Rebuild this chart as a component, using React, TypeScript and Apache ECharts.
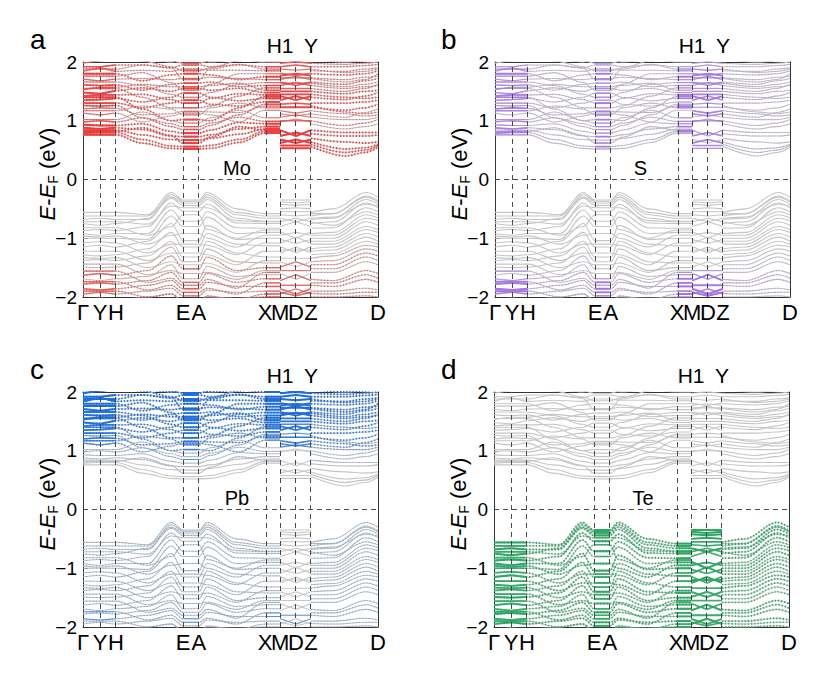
import React, { useEffect, useRef } from 'react';
import * as echarts from 'echarts';

const FONT = 'Liberation Sans, Arial, Helvetica, sans-serif';

// high-symmetry path
const kLabels = ['Γ', 'Y', 'H', 'E', 'A', 'X', 'M', 'D', 'Z', 'D'];
const kTicks = [0, 0.058, 0.112, 0.339, 0.393, 0.617, 0.668, 0.722, 0.773, 1];
const topLabels = ['H1', 'Y'];
const topTicks = [0.668, 0.773];

// k nodes of the three path pieces (Γ..M, M..Z, Z..D)
const condK1 = [0, 0.058, 0.112, 0.2, 0.3, 0.339, 0.393, 0.43, 0.53, 0.617, 0.668];
const valK1 = [0, 0.058, 0.112, 0.22, 0.3, 0.339, 0.393, 0.42, 0.52, 0.617, 0.668];
const k2 = [0.668, 0.722, 0.773];
const condK3 = [0.773, 0.89, 0.955, 1];
const valK3 = [0.773, 0.85, 0.96, 1];

// conduction bands (eV): Γ Y H · · E A · · X M
const condSeg1 = [
  [0.76, 0.76, 0.76, 0.62, 0.53, 0.52, 0.52, 0.53, 0.63, 0.79, 0.79],
  [0.79, 0.8, 0.8, 0.68, 0.57, 0.56, 0.56, 0.58, 0.68, 0.82, 0.82],
  [0.84, 0.84, 0.84, 0.76, 0.68, 0.67, 0.67, 0.7, 0.77, 0.86, 0.86],
  [0.88, 0.86, 0.88, 0.85, 0.74, 0.73, 0.73, 0.76, 0.86, 0.9, 0.9],
  [0.93, 0.92, 0.92, 0.95, 0.82, 0.79, 0.79, 0.84, 0.97, 0.95, 0.95],
  [0.98, 1.0, 0.98, 1.05, 0.95, 0.9, 0.9, 0.96, 1.06, 0.99, 0.99],
  [1.13, 1.1, 1.13, 0.98, 1.08, 1.13, 1.13, 1.1, 0.98, 1.18, 1.18],
  [1.2, 1.22, 1.21, 1.1, 1.12, 1.16, 1.16, 1.15, 1.14, 1.25, 1.25],
  [1.3, 1.3, 1.3, 1.22, 1.3, 1.35, 1.35, 1.28, 1.25, 1.32, 1.32],
  [1.35, 1.36, 1.38, 1.32, 1.4, 1.47, 1.47, 1.4, 1.34, 1.38, 1.38],
  [1.42, 1.44, 1.44, 1.45, 1.36, 1.3, 1.3, 1.38, 1.46, 1.44, 1.44],
  [1.48, 1.46, 1.51, 1.56, 1.5, 1.55, 1.55, 1.52, 1.55, 1.48, 1.48],
  [1.53, 1.57, 1.57, 1.62, 1.58, 1.58, 1.58, 1.6, 1.64, 1.52, 1.52],
  [1.61, 1.6, 1.61, 1.52, 1.62, 1.64, 1.64, 1.66, 1.58, 1.6, 1.6],
  [1.71, 1.68, 1.71, 1.72, 1.7, 1.72, 1.72, 1.74, 1.72, 1.7, 1.7],
  [1.8, 1.8, 1.8, 1.68, 1.78, 1.8, 1.8, 1.78, 1.7, 1.75, 1.75],
  [1.84, 1.9, 1.84, 1.86, 1.84, 1.88, 1.88, 1.86, 1.86, 1.85, 1.85],
  [1.92, 1.92, 1.95, 1.95, 1.9, 1.95, 1.95, 1.92, 1.95, 1.92, 1.92],
  [1.98, 2.02, 2.05, 2.05, 2.0, 2.05, 2.05, 2.0, 2.04, 2.0, 2.0],
  [1.02, 1.02, 1.02, 1.15, 1.0, 0.96, 0.96, 1.05, 1.18, 1.05, 1.05],
  [1.17, 1.17, 1.17, 1.25, 1.2, 1.1, 1.1, 1.22, 1.3, 1.22, 1.22],
  [1.26, 1.25, 1.26, 1.05, 0.9, 0.85, 0.85, 0.92, 1.1, 1.28, 1.28],
  [1.4, 1.4, 1.4, 1.2, 1.0, 1.02, 1.02, 1.0, 1.22, 1.41, 1.41],
  [1.55, 1.55, 1.55, 1.4, 1.22, 1.22, 1.22, 1.25, 1.42, 1.56, 1.56],
  [1.66, 1.66, 1.66, 1.6, 1.45, 1.4, 1.4, 1.48, 1.62, 1.65, 1.65],
  [1.76, 1.76, 1.76, 1.82, 1.65, 1.52, 1.52, 1.62, 1.8, 1.8, 1.8],
  [1.88, 1.88, 1.88, 1.95, 1.9, 1.7, 1.7, 1.88, 1.96, 1.88, 1.88],
  [2.1, 2.1, 2.1, 2.02, 1.92, 1.85, 1.85, 1.9, 2.02, 2.1, 2.1],
  [2.2, 2.2, 2.2, 2.15, 2.02, 1.98, 1.98, 2.02, 2.15, 2.2, 2.2],
  [0.81, 0.82, 0.82, 0.88, 0.75, 0.62, 0.62, 0.72, 0.9, 0.84, 0.84],
];
// M D Z
const condSeg2 = [
  [0.53, 0.53, 0.53], [0.62, 0.68, 0.62], [0.68, 0.62, 0.68], [0.74, 0.8, 0.74],
  [0.84, 0.74, 0.84], [1.0, 1.0, 1.0], [1.06, 1.1, 1.06], [1.17, 1.13, 1.17],
  [1.23, 1.23, 1.23], [1.35, 1.42, 1.35], [1.42, 1.35, 1.42], [1.5, 1.5, 1.5],
  [1.6, 1.65, 1.6], [1.66, 1.6, 1.66], [1.73, 1.73, 1.73], [1.77, 1.8, 1.77],
  [1.81, 1.77, 1.81], [1.92, 1.95, 1.92], [2.05, 2.0, 2.05],
  [0.98, 1.03, 0.98], [1.12, 1.08, 1.12], [1.28, 1.3, 1.28], [1.45, 1.45, 1.45],
  [1.55, 1.55, 1.55], [1.64, 1.64, 1.64], [1.7, 1.76, 1.7], [1.88, 1.86, 1.88],
  [1.98, 2.0, 1.98], [2.1, 2.1, 2.1], [0.58, 0.58, 0.58],
];
// Z · · D
const condSeg3 = [
  [0.56, 0.4, 0.46, 0.55], [0.64, 0.52, 0.54, 0.6], [0.7, 0.64, 0.62, 0.64],
  [0.78, 0.74, 0.74, 0.76], [0.84, 0.8, 0.8, 0.8], [1.0, 0.92, 0.96, 1.02],
  [1.06, 1.02, 1.02, 1.06], [1.17, 1.12, 1.08, 1.1], [1.23, 1.18, 1.22, 1.28],
  [1.3, 1.3, 1.32, 1.35], [1.4, 1.36, 1.42, 1.48], [1.5, 1.46, 1.5, 1.52],
  [1.6, 1.55, 1.58, 1.6], [1.66, 1.62, 1.68, 1.72], [1.73, 1.7, 1.74, 1.76],
  [1.8, 1.78, 1.8, 1.85], [1.85, 1.84, 1.88, 1.9], [1.92, 1.92, 1.94, 1.96],
  [2.05, 2.0, 2.02, 2.05],
  [0.95, 0.86, 0.9, 0.95], [1.12, 1.06, 1.14, 1.2], [1.26, 1.15, 1.12, 1.15],
  [1.45, 1.4, 1.38, 1.4], [1.55, 1.5, 1.55, 1.62], [1.64, 1.58, 1.62, 1.66],
  [1.72, 1.66, 1.7, 1.8], [1.88, 1.82, 1.84, 1.88], [1.98, 1.96, 1.98, 2.0],
  [2.1, 2.05, 2.05, 2.1], [0.6, 0.46, 0.5, 0.58],
];

// valence bands (eV): Γ Y H · · E A · · X M
const valSeg1 = [
  [-0.56, -0.56, -0.56, -0.6, -0.22, -0.35, -0.35, -0.22, -0.5, -0.58, -0.58],
  [-0.68, -0.66, -0.68, -0.68, -0.26, -0.37, -0.37, -0.26, -0.56, -0.62, -0.62],
  [-0.75, -0.78, -0.75, -0.66, -0.32, -0.44, -0.44, -0.34, -0.66, -0.71, -0.71],
  [-0.87, -0.85, -0.87, -0.8, -0.4, -0.54, -0.54, -0.42, -0.74, -0.75, -0.75],
  [-0.92, -0.95, -0.92, -0.92, -0.52, -0.71, -0.71, -0.55, -0.82, -0.83, -0.83],
  [-1.0, -1.0, -1.0, -1.02, -0.62, -0.8, -0.8, -0.64, -0.92, -0.9, -0.9],
  [-1.15, -1.12, -1.15, -1.05, -0.75, -1.04, -1.04, -0.78, -1.02, -1.0, -1.0],
  [-1.28, -1.3, -1.28, -1.18, -0.9, -1.15, -1.15, -0.92, -1.1, -1.13, -1.13],
  [-1.38, -1.36, -1.38, -1.3, -1.05, -1.32, -1.32, -1.05, -1.25, -1.32, -1.32],
  [-1.49, -1.5, -1.49, -1.42, -1.15, -1.4, -1.4, -1.18, -1.4, -1.42, -1.42],
  [-1.63, -1.6, -1.63, -1.55, -1.3, -1.52, -1.52, -1.32, -1.55, -1.5, -1.5],
  [-1.69, -1.72, -1.69, -1.65, -1.45, -1.69, -1.69, -1.48, -1.65, -1.62, -1.62],
  [-1.78, -1.76, -1.78, -1.72, -1.58, -1.75, -1.75, -1.6, -1.75, -1.69, -1.69],
  [-1.86, -1.88, -1.86, -1.8, -1.72, -1.86, -1.86, -1.75, -1.82, -1.82, -1.82],
  [-1.95, -1.92, -1.95, -1.9, -1.85, -1.98, -1.98, -1.88, -1.92, -1.9, -1.9],
  [-2.05, -2.02, -2.05, -2.0, -1.95, -2.05, -2.05, -2.0, -2.02, -2.0, -2.0],
  [-0.62, -0.62, -0.62, -0.62, -0.3, -0.4, -0.4, -0.3, -0.6, -0.66, -0.66],
  [-0.72, -0.72, -0.72, -0.76, -0.45, -0.48, -0.48, -0.48, -0.7, -0.72, -0.72],
  [-0.82, -0.82, -0.82, -0.95, -0.8, -0.6, -0.6, -0.85, -1.0, -0.86, -0.86],
  [-0.96, -0.98, -0.96, -1.1, -0.95, -0.92, -0.92, -1.0, -1.15, -0.95, -0.95],
  [-1.08, -1.06, -1.08, -1.25, -1.1, -1.1, -1.1, -1.12, -1.28, -1.08, -1.08],
  [-1.22, -1.22, -1.22, -1.38, -1.25, -1.25, -1.25, -1.28, -1.45, -1.22, -1.22],
  [-1.33, -1.34, -1.33, -1.5, -1.4, -1.45, -1.45, -1.42, -1.58, -1.38, -1.38],
  [-1.44, -1.44, -1.44, -1.62, -1.55, -1.6, -1.6, -1.58, -1.7, -1.55, -1.55],
  [-1.56, -1.56, -1.56, -1.75, -1.68, -1.8, -1.8, -1.7, -1.85, -1.58, -1.58],
  [-1.74, -1.74, -1.74, -1.88, -1.8, -1.92, -1.92, -1.85, -1.95, -1.76, -1.76],
  [-1.9, -1.9, -1.9, -2.0, -1.95, -2.1, -2.1, -1.98, -2.05, -1.95, -1.95],
];
// M D Z
const valSeg2 = [
  [-0.35, -0.35, -0.35], [-0.38, -0.4, -0.38], [-0.42, -0.44, -0.42], [-0.5, -0.48, -0.5],
  [-0.66, -0.72, -0.66], [-0.8, -0.72, -0.8], [-0.89, -1.0, -0.89], [-1.09, -0.98, -1.09],
  [-1.14, -1.25, -1.14], [-1.25, -1.15, -1.25], [-1.49, -1.4, -1.49], [-1.6, -1.7, -1.6],
  [-1.72, -1.62, -1.72], [-1.86, -1.95, -1.86], [-1.95, -1.86, -1.95], [-2.05, -2.05, -2.05],
  [-0.55, -0.55, -0.55], [-0.6, -0.62, -0.6], [-0.72, -0.66, -0.72], [-0.95, -0.9, -0.95],
  [-1.02, -1.09, -1.02], [-1.2, -1.2, -1.2], [-1.34, -1.34, -1.34], [-1.4, -1.49, -1.4],
  [-1.55, -1.55, -1.55], [-1.8, -1.8, -1.8], [-1.92, -1.98, -1.92],
];
// Z · · D
const valSeg3 = [
  [-0.56, -0.5, -0.22, -0.3], [-0.62, -0.58, -0.28, -0.36], [-0.68, -0.66, -0.34, -0.42],
  [-0.75, -0.72, -0.4, -0.48], [-0.83, -0.82, -0.48, -0.55], [-0.92, -0.9, -0.6, -0.65],
  [-1.0, -1.0, -0.72, -0.78], [-1.1, -1.1, -0.85, -0.9], [-1.22, -1.2, -0.98, -1.05],
  [-1.34, -1.3, -1.12, -1.15], [-1.45, -1.45, -1.25, -1.3], [-1.58, -1.58, -1.4, -1.45],
  [-1.7, -1.72, -1.55, -1.6], [-1.8, -1.82, -1.7, -1.75], [-1.9, -1.9, -1.85, -1.88],
  [-2.0, -2.0, -1.98, -2.0],
  [-0.58, -0.58, -0.3, -0.38], [-0.66, -0.64, -0.42, -0.45], [-0.72, -0.78, -0.55, -0.6],
  [-0.95, -0.95, -0.66, -0.7], [-1.05, -1.05, -0.8, -0.85], [-1.18, -1.15, -0.92, -0.98],
  [-1.28, -1.26, -1.05, -1.1], [-1.4, -1.38, -1.18, -1.22], [-1.52, -1.52, -1.32, -1.38],
  [-1.76, -1.76, -1.62, -1.68], [-1.94, -1.95, -1.92, -1.92],
];

// projection weights (0..1) per band
const moCond = [1, 1, 1, 1, 1, 0.6, 0.3, 0.4, 0.9, 0.9, 0.9, 0.9, 0.6, 0.8, 0.5, 0.9, 0.5, 0.7, 0.4,
  0.3, 0.3, 0.7, 0.9, 0.6, 0.4, 0.4, 0.4, 0.6, 0.6, 1];
const moVal = [0, 0, 0, 0, 0, 0, 0, 0, 0, 0.15, 0.5, 0.2, 0.5, 0.6, 0.4, 0.6,
  0, 0, 0, 0, 0, 0, 0, 0.2, 0.4, 0.5, 0.6];
const sCond = [0.15, 0.3, 0.1, 0.3, 0.15, 0.2, 0.1, 0.3, 0.15, 0.25, 0.35, 0.2, 0.15, 0.2, 0.15, 0.35, 0.15, 0.15, 0.1,
  0.15, 0.25, 0.15, 0.3, 0.15, 0.2, 0.15, 0.2, 0.15, 0.15, 0.25];
const sVal = [0, 0, 0, 0, 0, 0, 0, 0, 0, 0, 0.1, 0.15, 0.35, 0.4, 0.25, 0.25,
  0, 0, 0, 0, 0, 0, 0, 0, 0.15, 0.35, 0.4];
const pbCond = [0, 0, 0, 0.05, 0.05, 0.1, 0.5, 0.7, 0.8, 0.9, 0.8, 0.9, 1, 0.9, 1, 0.9, 1, 1, 1,
  0.1, 0.6, 0.3, 0.6, 0.9, 0.9, 1, 1, 1, 1, 0.05];
const pbVal = [0.15, 0.1, 0.2, 0.1, 0.2, 0.15, 0.2, 0.1, 0.2, 0.15, 0.2, 0.15, 0.2, 0.3, 0.2, 0.2,
  0.2, 0.1, 0.2, 0.15, 0.2, 0.1, 0.2, 0.15, 0.2, 0.3, 0.2];
const teCond = [0, 0, 0, 0, 0, 0, 0, 0, 0, 0, 0, 0, 0, 0, 0, 0, 0, 0, 0,
  0, 0, 0, 0, 0, 0, 0, 0, 0, 0, 0];
const teVal = [1, 1, 1, 1, 1, 0.8, 1, 0.9, 0.8, 1, 0.9, 0.8, 1, 0.9, 1, 0.9,
  0.9, 0.8, 0.8, 0.9, 0.8, 0.9, 0.8, 0.9, 0.8, 0.9, 0.8];

const panelLetters = ['a', 'b', 'c', 'd'];
const elementNames = ['Mo', 'S', 'Pb', 'Te'];
const elementColors = ['#ea4040', '#a574e6', '#1e6fdc', '#2fa865'];

const PANELS = [
  { cw: moCond, vw: moVal, boost: 1.0, gx: 83, gy: 62, labelFx: 0.522, letterX: 30 },
  { cw: sCond, vw: sVal, boost: 2.6, gx: 495, gy: 62, labelFx: 0.493, letterX: 441 },
  { cw: pbCond, vw: pbVal, boost: 1.0, gx: 83, gy: 392, labelFx: 0.522, letterX: 30 },
  { cw: teCond, vw: teVal, boost: 1.0, gx: 494, gy: 392, labelFx: 0.505, letterX: 441 },
];
const GW = 295;
const GH = 235;
const GRAY = '#c6c6c6';
const FLAT_RANGES = [[0, 2], [5, 6], [9, 10]];
const TITLE_SIZE = 22;
const SUB_SIZE = 14;

function pts(ks: number[], vals: number[]) {
  return ks.map((k, i) => [k, vals[i]]);
}

function measure(text: string, size: number, italic: boolean) {
  const c = document.createElement('canvas');
  const ctx = c.getContext('2d');
  if (!ctx) return text.length * size * 0.6;
  ctx.font = (italic ? 'italic ' : '') + size + 'px ' + FONT;
  return ctx.measureText(text).width;
}

function yTitle(cx: number, cy: number) {
  const pieces = [
    { t: 'E', s: TITLE_SIZE, it: true, dy: 0 },
    { t: '-', s: TITLE_SIZE, it: false, dy: 0 },
    { t: 'E', s: TITLE_SIZE, it: true, dy: 0 },
    { t: 'F', s: SUB_SIZE, it: false, dy: 6 },
    { t: ' (eV)', s: TITLE_SIZE, it: false, dy: 0 },
  ];
  const widths = pieces.map((p) => measure(p.t, p.s, p.it));
  const total = widths.reduce((a, b) => a + b, 0);
  let x = -total / 2;
  const children = pieces.map((p, i) => {
    const el = {
      type: 'text', x, y: p.dy,
      style: {
        text: p.t, fontSize: p.s, fontFamily: FONT, fontStyle: p.it ? 'italic' : 'normal',
        fill: '#000', align: 'left', verticalAlign: 'middle',
      },
    };
    x += widths[i];
    return el;
  });
  return { type: 'group', x: cx, y: cy, rotation: Math.PI / 2, children, silent: true };
}

function buildOption() {
  const grid: any[] = [];
  const xAxis: any[] = [];
  const yAxis: any[] = [];
  const series: any[] = [];
  const graphic: any[] = [];

  PANELS.forEach((p, g) => {
    grid.push({ left: p.gx, top: p.gy, width: GW, height: GH, containLabel: false, outerBoundsMode: 'none' });
    xAxis.push({
      type: 'value', gridIndex: g, min: 0, max: 1, position: 'bottom',
      axisLine: { show: true, onZero: false, lineStyle: { color: '#333', width: 1 } },
      axisTick: { show: false }, splitLine: { show: false },
      axisLabel: {
        customValues: kTicks, showMinLabel: true, showMaxLabel: true,
        formatter: (v: number) => {
          const i = kTicks.findIndex((t) => Math.abs(t - v) < 1e-6);
          return i >= 0 ? kLabels[i] : '';
        },
        fontSize: 22, color: '#000', fontFamily: FONT, margin: 4,
      },
    });
    xAxis.push({
      type: 'value', gridIndex: g, min: 0, max: 1, position: 'top',
      axisLine: { show: true, onZero: false, lineStyle: { color: '#333', width: 1 } },
      axisTick: { show: false }, splitLine: { show: false },
      axisLabel: {
        customValues: topTicks,
        formatter: (v: number) => {
          const i = topTicks.findIndex((t) => Math.abs(t - v) < 1e-6);
          return i >= 0 ? topLabels[i] : '';
        },
        fontSize: 21, color: '#000', fontFamily: FONT, margin: 6,
      },
    });
    yAxis.push({
      type: 'value', gridIndex: g, min: -2, max: 2, interval: 1, position: 'left',
      axisLine: { show: true, onZero: false, lineStyle: { color: '#333', width: 1 } },
      axisTick: { show: true, inside: true, length: 5, lineStyle: { color: '#333' } },
      splitLine: { show: false },
      axisLabel: {
        fontSize: 19, color: '#000', fontFamily: FONT, margin: 6,
        formatter: (v: number) => (v < 0 ? '\u2212' + Math.abs(v) : String(v)),
      },
    });
    yAxis.push({
      type: 'value', gridIndex: g, min: -2, max: 2, interval: 1, position: 'right',
      axisLine: { show: true, onZero: false, lineStyle: { color: '#333', width: 1 } },
      axisTick: { show: false }, axisLabel: { show: false }, splitLine: { show: false },
    });

    const xi = g * 2;
    const yi = g * 2;
    const color = elementColors[g];

    const sets = [
      { s1: condSeg1, s2: condSeg2, s3: condSeg3, k1: condK1, k3: condK3, w: p.cw },
      { s1: valSeg1, s2: valSeg2, s3: valSeg3, k1: valK1, k3: valK3, w: p.vw },
    ];

    // gray bands
    sets.forEach((set) => {
      set.s1.forEach((b, bi) => {
        const segs = [
          { d: pts(set.k1, b), smooth: 0.35 },
          { d: pts(k2, set.s2[bi]), smooth: false },
          { d: pts(set.k3, set.s3[bi]), smooth: 0.35 },
        ];
        segs.forEach((sg) => {
          series.push({
            type: 'line', xAxisIndex: xi, yAxisIndex: yi, data: sg.d,
            smooth: sg.smooth, smoothMonotone: 'x', symbol: 'none', showSymbol: false,
            lineStyle: { color: GRAY, width: 1.1 }, silent: true, z: 2, clip: true,
          });
        });
      });
    });

    // projection overlays
    sets.forEach((set) => {
      set.s1.forEach((b, bi) => {
        const w = set.w[bi];
        if (!w || w < 0.05) return;
        const dotted = {
          color, width: 0.6 + 1.3 * w, type: [1.3, 1.9], opacity: 0.35 + 0.65 * w,
        };
        const wf = Math.min(1, w * p.boost);
        if (wf >= 0.3) {
          const solid = { color, width: 0.6 + 1.4 * wf, opacity: 0.3 + 0.7 * wf };
          FLAT_RANGES.forEach(([a, e]) => {
            series.push({
              type: 'line', xAxisIndex: xi, yAxisIndex: yi,
              data: pts(set.k1.slice(a, e + 1), b.slice(a, e + 1)),
              symbol: 'none', showSymbol: false, lineStyle: solid, silent: true, z: 3, clip: true,
            });
          });
          series.push({
            type: 'line', xAxisIndex: xi, yAxisIndex: yi, data: pts(k2, set.s2[bi]),
            symbol: 'none', showSymbol: false, lineStyle: solid, silent: true, z: 3, clip: true,
          });
        }
        const curves = [
          { d: pts(set.k1, b), smooth: 0.35 },
          { d: pts(set.k3, set.s3[bi]), smooth: 0.35 },
        ];
        curves.forEach((sg) => {
          series.push({
            type: 'line', xAxisIndex: xi, yAxisIndex: yi, data: sg.d,
            smooth: sg.smooth, smoothMonotone: 'x', symbol: 'none', showSymbol: false,
            lineStyle: dotted, silent: true, z: 3, clip: true,
          });
        });
      });
    });

    // dashed guide lines
    series.push({
      type: 'line', xAxisIndex: xi, yAxisIndex: yi, data: [], symbol: 'none', silent: true, z: 5,
      markLine: {
        silent: true, symbol: ['none', 'none'], label: { show: false },
        lineStyle: { color: '#4a4a4a', type: [5, 4], width: 1 },
        data: [
          ...kTicks.slice(1, 9).map((k) => ({ xAxis: k })),
          { yAxis: 0 },
        ],
      },
    });

    graphic.push({
      type: 'text', x: p.letterX, y: p.gy - 23,
      style: { text: panelLetters[g], fontSize: 28, fontFamily: FONT, fill: '#000', align: 'left', verticalAlign: 'middle' },
    });
    graphic.push({
      type: 'text', x: p.gx + p.labelFx * GW, y: p.gy + 0.45 * GH,
      style: { text: elementNames[g], fontSize: 20, fontFamily: FONT, fill: '#000', align: 'center', verticalAlign: 'middle' },
      z: 10,
    });
    graphic.push(yTitle(p.gx - 36, p.gy + 112));
  });

  return {
    animation: false,
    backgroundColor: '#fff',
    textStyle: { fontFamily: FONT },
    grid, xAxis, yAxis, series, graphic,
  };
}

export default function App() {
  const ref = useRef<HTMLDivElement>(null);
  useEffect(() => {
    document.body.style.margin = '0';
    const chart = echarts.init(ref.current as HTMLDivElement, undefined, { renderer: 'svg' });
    chart.setOption(buildOption() as any);
    return () => chart.dispose();
  }, []);
  return <div ref={ref} style={{ width: 821, height: 675 }} />;
}
